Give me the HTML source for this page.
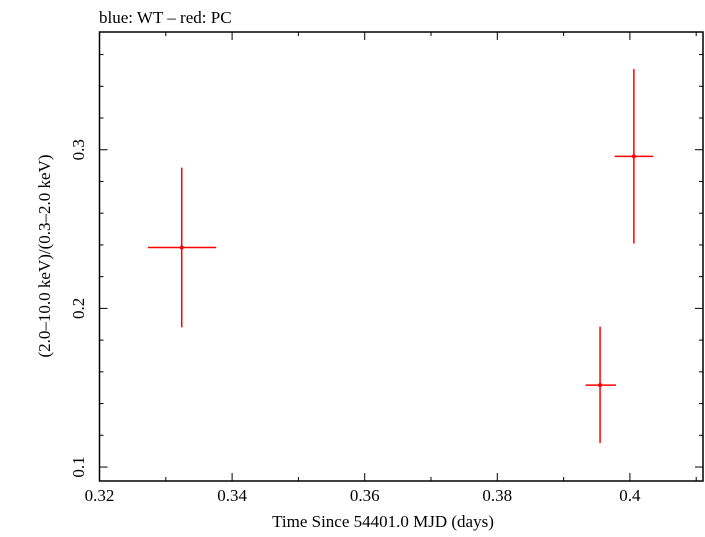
<!DOCTYPE html>
<html><head><meta charset="utf-8"><style>
body{margin:0;background:#fff}
svg text{font-family:"Liberation Serif",serif;fill:#000}
</style></head><body>
<svg id="c" width="705" height="532"></svg>
<script>
const xs=[0.3324,0.3955,0.4006];
const xlo=[0.3273,0.3933,0.3977];
const xhi=[0.3376,0.3979,0.4035];
const ys=[0.2384,0.1516,0.2958];
const ylo=[0.188,0.1151,0.2409];
const yhi=[0.2887,0.1885,0.3508];
const xTicks=[0.32,0.34,0.36,0.38,0.4];
const xTickLabels=["0.32","0.34","0.36","0.38","0.4"];
const yTicks=[0.1,0.2,0.3];
const yTickLabels=["0.1","0.2","0.3"];
const L=99.5,R=703,T=32,B=481;
const X0=0.32,X1=0.32+(R-L)/6630,Y0=0.1-14/1590,Y1=0.3+118/1590;
const sx=v=>L+(v-X0)/(X1-X0)*(R-L);
const sy=v=>B-(v-Y0)/(Y1-Y0)*(B-T);
const svg=document.getElementById('c');
const NS='http://www.w3.org/2000/svg';
function mk(t,a,p){const e=document.createElementNS(NS,t);for(const k in a)e.setAttribute(k,a[k]);(p||svg).appendChild(e);return e;}
function ln(x1,y1,x2,y2,c,w,name){const e=mk('line',{x1,y1,x2,y2,stroke:c,'stroke-width':w});

return e;}
const fr=mk('rect',{x:L,y:T,width:R-L,height:B-T,fill:'none',stroke:'#000','stroke-width':1.5});


// x ticks
for(let i=0;i<=9;i++){const v=0.32+i*0.01;if(v>X1)break;const x=sx(v);const maj=i%2==0;const len=maj?8:4;
ln(x,B,x,B-len,'#000',1,'x-tick');ln(x,T,x,T+len,'#000',1,'x-tick-top');}
xTicks.forEach((v,i)=>{const t=mk('text',{x:sx(v),y:501,'text-anchor':'middle','font-size':17});t.textContent=xTickLabels[i];

});
// y ticks
for(let i=0;i<=14;i++){const v=0.1+(i-0)*0.02-0.00001+0.00001;const vv=Math.round((0.1+i*0.02)*1000)/1000;if(vv>Y1)break;const y=sy(vv);const maj=i%5==0;const len=maj?8:4;
ln(L,y,L+len,y,'#000',1,'y-tick');ln(R,y,R-len,y,'#000',1,'y-tick-right');}
yTicks.forEach((v,i)=>{const t=mk('text',{x:84,y:sy(v),'text-anchor':'middle','font-size':17,transform:`rotate(-90 84 ${sy(v)})`});t.textContent=yTickLabels[i];

});
// data
xs.forEach((x,i)=>{
ln(sx(xlo[i]),sy(ys[i]),sx(xhi[i]),sy(ys[i]),'#f00',1.5,'x-error-bar');
ln(sx(x),sy(ylo[i]),sx(x),sy(yhi[i]),'#f00',1.5,'y-error-bar');
const c=mk('circle',{cx:sx(x),cy:sy(ys[i]),r:2,fill:'#f00'});

});
let t=mk('text',{x:99,y:23,'font-size':17});t.textContent='blue: WT \u2013 red: PC';


t=mk('text',{x:383,y:527,'text-anchor':'middle','font-size':17});t.textContent='Time Since 54401.0 MJD (days)';


t=mk('text',{x:50,y:256,'text-anchor':'middle','font-size':17,transform:'rotate(-90 50 256)'});t.textContent='(2.0\u201310.0 keV)/(0.3\u20132.0 keV)';


</script>
</body></html>
